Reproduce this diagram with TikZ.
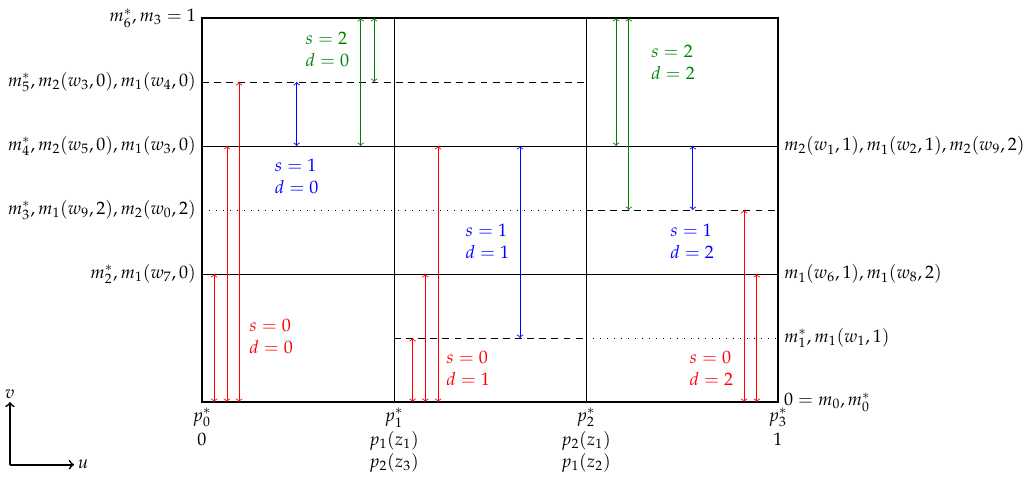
\documentclass[tikz,border=0pt]{standalone}
\usepackage{mathpazo}
\begin{document}
\begin{tikzpicture}[x=1.3cm,y=1.3cm,
  font=\fontsize{10.4}{12.8}\selectfont,
  grid/.style={line width=0.5pt},
  dashline/.style={line width=0.5pt,dash pattern=on 4pt off 3pt},
  dotline/.style={line width=0.45pt,dash pattern=on 0.45pt off 3.6pt},
  frame/.style={line width=1.1pt},
  dbl/.style={<->,line width=0.5pt},
  rd/.style={dbl,red},
  bl/.style={dbl,blue},
  gr/.style={dbl,green!50!black},
  lab/.style={align=left,inner sep=0pt},
  axis/.style={->,line width=1pt}]
\useasboundingbox (-3.156,-1.219) rectangle (12.844,6.281);
% corners / levels
\coordinate (O) at (0,0);
\coordinate (TR) at (9,6);
% inner lines
\draw[grid] (3,0) -- (3,6);
\draw[grid] (6,0) -- (6,6);
\draw[grid] (0,4) -- (9,4);
\draw[grid] (0,2) -- (9,2);
\draw[dashline] (0,5) -- (6,5);
\draw[dotline] (0,3) -- (6,3);
\draw[dashline] (6,3) -- (9,3);
\draw[dashline] (3,1) -- (6,1);
\draw[dotline] (6,1) -- (9,1);
\draw[frame] (O) rectangle (TR);
% left labels
\node[left] (l6) at (0,6) {$m_6^*, m_3 = 1$};
\node[left] (l5) at (0,5) {$m_5^*, m_2(w_3,0), m_1(w_4,0)$};
\node[left] (l4) at (0,4) {$m_4^*, m_2(w_5,0), m_1(w_3,0)$};
\node[left] (l3) at (0,3) {$m_3^*, m_1(w_9,2), m_2(w_0,2)$};
\node[left] (l2) at (0,2) {$m_2^*, m_1(w_7,0)$};
% right labels
\node[right] (r4) at (9,4) {$m_2(w_1,1), m_1(w_2,1), m_2(w_9,2)$};
\node[right] (r2) at (9,2) {$m_1(w_6,1), m_1(w_8,2)$};
\node[right] (r1) at (9,1) {$m_1^*, m_1(w_1,1)$};
\node[right] (r0) at (9,0) {$0 = m_0, m_0^*$};
% bottom labels
\node[below,align=center] (b0) at (0,0) {$p_0^*$\\[1pt]$0$};
\node[below,align=center] (b1) at (3,0) {$p_1^*$\\[1pt]$p_1(z_1)$\\$p_2(z_3)$};
\node[below,align=center] (b2) at (6,0) {$p_2^*$\\[1pt]$p_2(z_1)$\\$p_1(z_2)$};
\node[below,align=center] (b3) at (9,0) {$p_3^*$\\[1pt]$1$};
% region 1 arrows
\draw[rd] (0.19,0) -- (0.19,2);
\draw[rd] (0.39,0) -- (0.39,4);
\draw[rd] (0.58,0) -- (0.58,5);
\draw[bl] (1.48,4) -- (1.48,5);
\draw[gr] (2.48,4) -- (2.48,6);
\draw[gr] (2.69,5) -- (2.69,6);
% region 2 arrows
\draw[rd] (3.29,0) -- (3.29,1);
\draw[rd] (3.49,0) -- (3.49,2);
\draw[rd] (3.69,0) -- (3.69,4);
\draw[bl] (4.97,1) -- (4.97,4);
% region 3 arrows
\draw[gr] (6.47,4) -- (6.47,6);
\draw[gr] (6.67,3) -- (6.67,6);
\draw[bl] (7.67,3) -- (7.67,4);
\draw[rd] (8.47,0) -- (8.47,3);
\draw[rd] (8.67,0) -- (8.67,2);
% annotations
\node[lab,red] (a1) at (1.08,1.02) {$s=0$\\$d=0$};
\node[lab,blue] (a2) at (1.48,3.52) {$s=1$\\$d=0$};
\node[lab,green!50!black] (a3) at (1.96,5.51) {$s=2$\\$d=0$};
\node[lab,red] (a4) at (4.16,0.52) {$s=0$\\$d=1$};
\node[lab,blue] (a5) at (4.46,2.51) {$s=1$\\$d=1$};
\node[lab,green!50!black] (a6) at (7.36,5.31) {$s=2$\\$d=2$};
\node[lab,blue] (a7) at (7.66,2.51) {$s=1$\\$d=2$};
\node[lab,red] (a8) at (7.96,0.52) {$s=0$\\$d=2$};
% axes
\coordinate (ax0) at (-3,-0.98);
\coordinate (axv) at (-3,0);
\coordinate (axu) at (-2,-0.98);
\draw[axis] (ax0) -- (axv);
\draw[axis] (ax0) -- (axu);
\node[above,inner sep=2pt] (v) at (axv) {$v$};
\node[right,inner sep=2pt] (u) at (axu) {$u$};
\end{tikzpicture}
\end{document}
